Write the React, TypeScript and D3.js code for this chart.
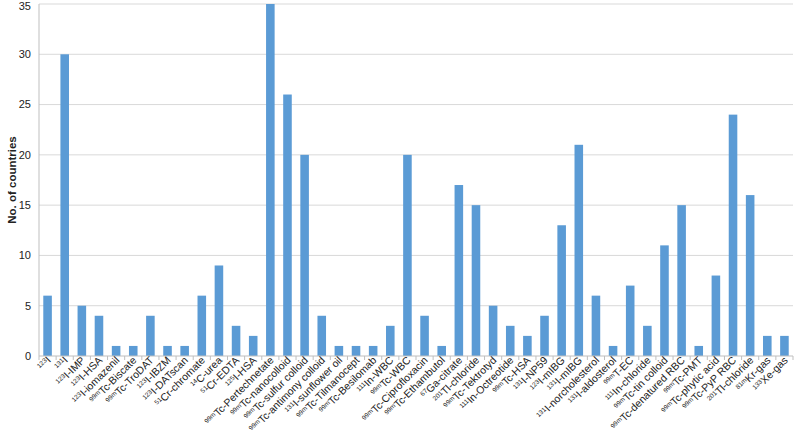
import * as React from "react";
import * as d3 from "d3";

// isotope prefix (superscript) and compound name
const isotopes = [
  "123", "131", "123", "123", "123", "99m", "99m", "123", "123", "51", "14",
  "51", "125", "99m", "99m", "99m", "99m", "131", "99m", "99m", "111", "99m",
  "99m", "99m", "67", "201", "99m", "111", "99m", "131", "123", "131", "131",
  "131", "99m", "111", "99m", "99m", "99m", "99m", "99m", "201", "81m", "133",
];
const names = [
  "I", "I", "I-IMP", "I-HSA", "I-iomazenil", "Tc-Biscate", "Tc-TroDAT",
  "I-IBZM", "I-DATscan", "Cr-chromate", "C-urea", "Cr-EDTA", "I-HSA",
  "Tc-Pertechnetate", "Tc-nanocolloid", "Tc-sulfur colloid",
  "Tc-antimony colloid", "I-sunflower oil", "Tc-Tilmanocept", "Tc-Besilomab",
  "In-WBC", "Tc-WBC", "Tc-Ciprofloxacin", "Tc-Ethambutol", "Ga-citrate",
  "Tl-chloride", "Tc-Tektrotyd", "In-Octreotide", "Tc-HSA", "I-NP59",
  "I-mIBG", "I-mIBG", "I-norcholesterol", "I-aldosterol", "T-EC",
  "In-chloride", "Tc-tin colloid", "Tc-denatured RBC", "Tc-PMT",
  "Tc-phytic acid", "Tc-PyP RBC", "Tl-chloride", "Kr-gas", "Xe-gas",
];
const countries = [
  6, 30, 5, 4, 1, 1, 4, 1, 1, 6, 9, 3, 2, 35, 26, 20, 4, 1, 1, 1, 3, 20, 4, 1,
  17, 15, 5, 3, 2, 4, 13, 21, 6, 1, 7, 3, 11, 15, 1, 8, 24, 16, 2, 2,
];
const yTicks = [0, 5, 10, 15, 20, 25, 30, 35];

const W = 797;
const H = 435;
const left = 39;
const right = 793;
const top = 4;
const bottom = 356;

const App = () => {
  const keys = countries.map((_, i) => String(i));
  const x = d3.scaleBand().domain(keys).range([left, right]).paddingInner(0.5).paddingOuter(0.25);
  const y = d3.scaleLinear().domain([0, 35]).range([bottom, top]);
  const step = x.step();
  const font = "Liberation Sans, Arial, sans-serif";

  return (
    <svg width={W} height={H} style={{ position: "absolute", left: 0, top: 0 }} fontFamily={font}>
      <rect width={W} height={H} fill="#fff" />
      {yTicks.map(t => (
        <g key={t}>
          {t > 0 && <line x1={left} x2={right} y1={y(t)} y2={y(t)} stroke="#d9d9d9" strokeWidth={1} />}
          <text x={31} y={Math.max(y(t), 6)} dy="0.35em" textAnchor="end" fontSize={11} fill="#222">
            {t}
          </text>
        </g>
      ))}
      <text
        transform={`translate(16 ${(top + bottom) / 2}) rotate(-90)`}
        textAnchor="middle"
        fontSize={11.5}
        fontWeight="bold"
        fill="#222"
      >
        No. of countries
      </text>
      {countries.map((v, i) => (
        <rect
          key={i}
          x={x(String(i))}
          y={y(v)}
          width={x.bandwidth()}
          height={y(0) - y(v)}
          fill="#5b9bd5"
        />
      ))}
      <line x1={left} x2={left} y1={top} y2={bottom} stroke="#bfbfbf" />
      <line x1={left} x2={right} y1={bottom} y2={bottom} stroke="#bfbfbf" />
      {d3.range(countries.length + 1).map(i => (
        <line
          key={i}
          x1={left + i * step}
          x2={left + i * step}
          y1={bottom}
          y2={bottom + 4}
          stroke="#bfbfbf"
        />
      ))}
      {names.map((n, i) => {
        const cx = (x(String(i)) as number) + x.bandwidth() / 2;
        return (
          <text
            key={i}
            transform={`translate(${cx + 4} ${bottom + 5}) rotate(-45)`}
            textAnchor="end"
            dy="0.6em"
            fontSize={10.5}
            fill="#222"
          >
            <tspan fontSize={6.5} dy="-0.5em">{isotopes[i]}</tspan>
            <tspan dy="0.3em">{n}</tspan>
          </text>
        );
      })}
    </svg>
  );
};

export default App;
